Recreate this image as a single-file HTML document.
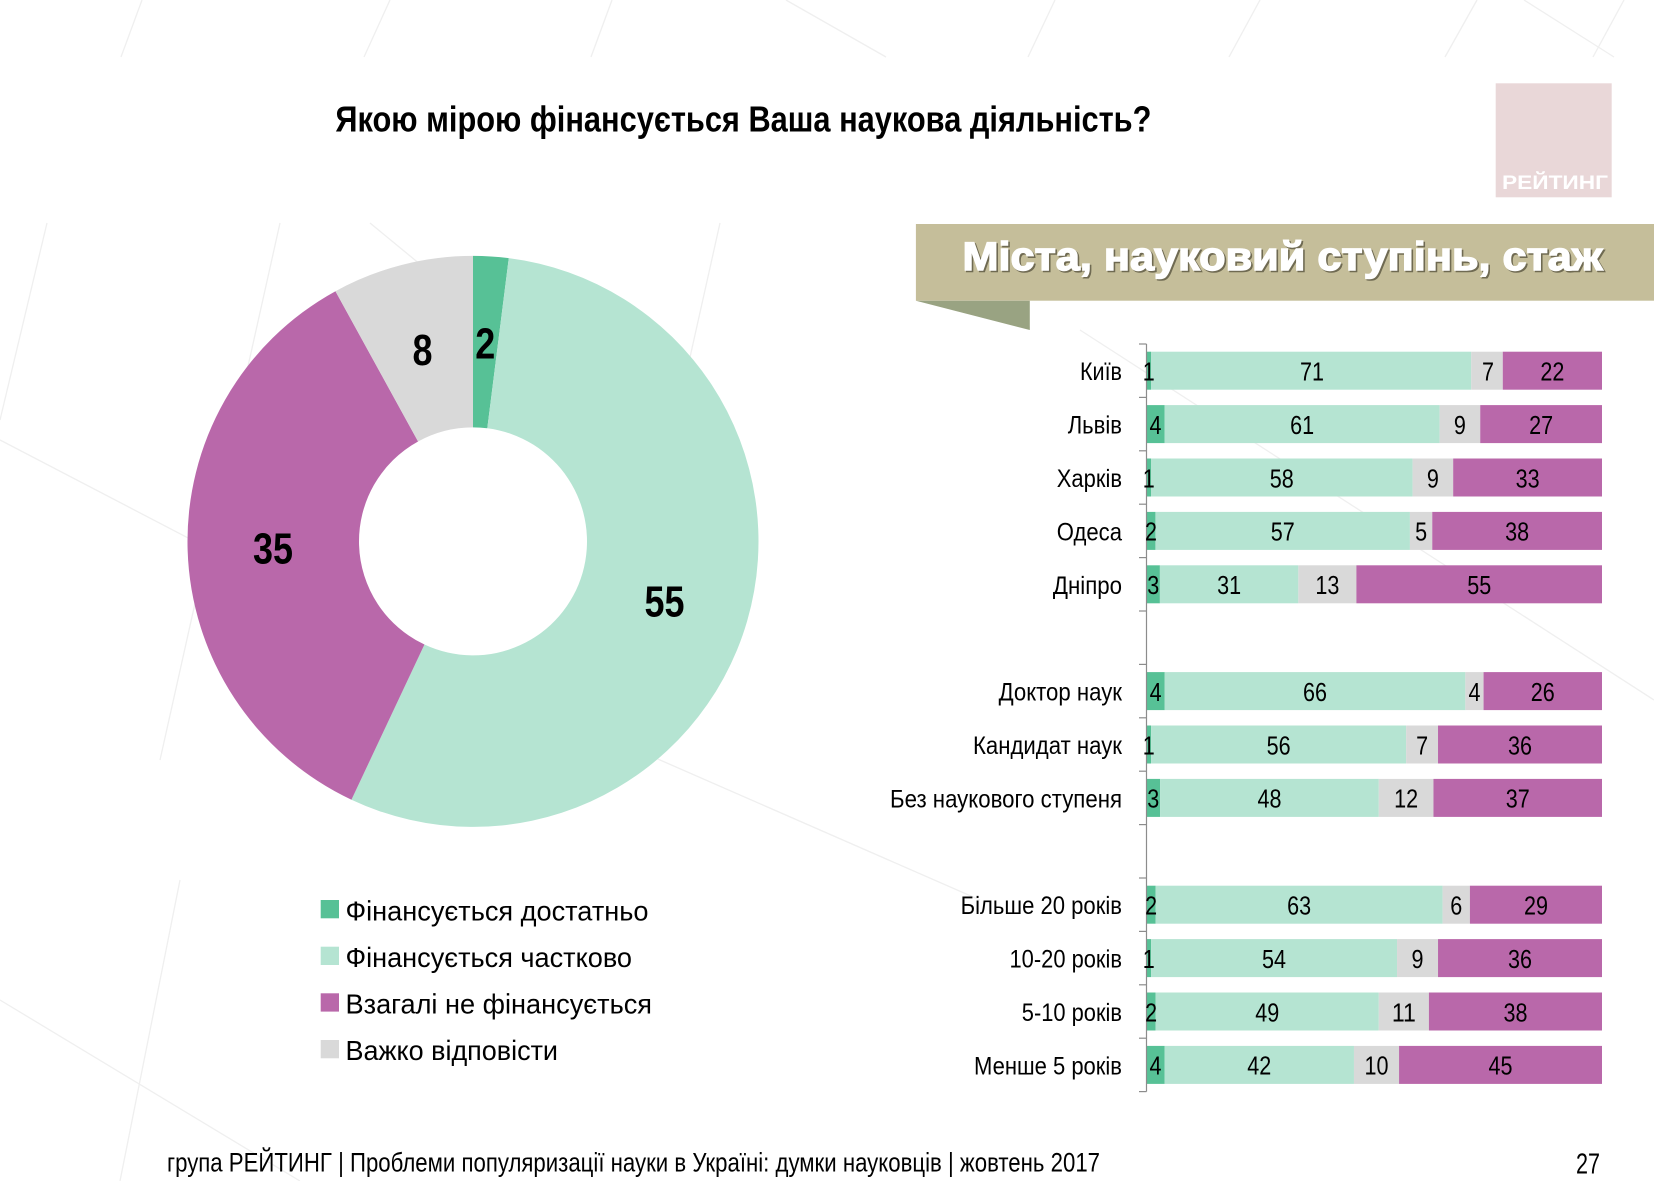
<!DOCTYPE html>
<html>
<head>
<meta charset="utf-8">
<style>
  html,body{margin:0;padding:0;background:#ffffff;}
  svg{display:block;}
  text{font-family:"Liberation Sans Narrow","Liberation Sans","DejaVu Sans",sans-serif;}
  .reg{font-family:"Liberation Sans","DejaVu Sans",sans-serif;}
</style>
</head>
<body>
<svg width="1654" height="1181" viewBox="0 0 1654 1181" xmlns="http://www.w3.org/2000/svg">
  <rect x="0" y="0" width="1654" height="1181" fill="#ffffff"/>

  <!-- faint background lines -->
  <g stroke="#efefef" stroke-width="1.3" fill="none">
    <line x1="142" y1="0" x2="121" y2="57"/>
    <line x1="390" y1="0" x2="364" y2="57"/>
    <line x1="612" y1="0" x2="591" y2="57"/>
    <line x1="786" y1="0" x2="886" y2="57"/>
    <line x1="1055" y1="0" x2="1028" y2="57"/>
    <line x1="1260" y1="0" x2="1229" y2="57"/>
    <line x1="1477" y1="0" x2="1445" y2="57"/>
    <line x1="1524" y1="0" x2="1614" y2="57"/>
    <line x1="1624" y1="0" x2="1593" y2="57"/>
    <line x1="47" y1="223" x2="0" y2="420"/>
    <line x1="280" y1="223" x2="160" y2="760"/>
    <line x1="720" y1="223" x2="600" y2="760"/>
    <line x1="370" y1="223" x2="500" y2="330"/>
    <line x1="0" y1="440" x2="480" y2="690"/>
    <line x1="500" y1="690" x2="980" y2="900"/>
    <line x1="1080" y1="330" x2="1654" y2="700"/>
    <line x1="0" y1="1000" x2="300" y2="1181"/>
    <line x1="180" y1="880" x2="120" y2="1181"/>
  </g>

  <!-- Title -->
  <text x="335.4" y="131.7" font-size="36" font-weight="bold" fill="#000" textLength="816" lengthAdjust="spacingAndGlyphs">Якою мірою фінансується Ваша наукова діяльність?</text>

  <!-- Logo -->
  <rect x="1495.7" y="83.3" width="116" height="114" fill="#e9d7d8"/>
  <text x="1502" y="189" font-size="19" font-weight="bold" fill="#ffffff" textLength="106" lengthAdjust="spacingAndGlyphs">РЕЙТИНГ</text>

  <!-- Banner -->
  <rect x="915.9" y="224" width="738.1" height="76.7" fill="#c5be9a"/>
  <polygon points="915.9,300.7 1029.8,300.7 1029.8,330" fill="#99a382"/>
  <text class="reg" x="964" y="271.5" font-size="39.5" font-weight="bold" fill="#6f6a52" stroke="#6f6a52" stroke-width="1.6" textLength="640" lengthAdjust="spacingAndGlyphs">Міста, науковий ступінь, стаж</text>
  <text class="reg" x="962.5" y="270" font-size="39.5" font-weight="bold" fill="#ffffff" stroke="#ffffff" stroke-width="1.4" textLength="640" lengthAdjust="spacingAndGlyphs">Міста, науковий ступінь, стаж</text>

  <!-- Donut -->
  <g>
    <path d="M473,255.9 A285.5,285.5 0 0 1 508.78,258.15 L487.29,428.30 A114,114 0 0 0 473,427.4 Z" fill="#57c196"/>
    <path d="M508.78,258.15 A285.5,285.5 0 1 1 351.44,799.73 L424.46,644.55 A114,114 0 1 0 487.29,428.30 Z" fill="#b5e4d2"/>
    <path d="M351.44,799.73 A285.5,285.5 0 0 1 335.46,291.21 L418.08,441.50 A114,114 0 0 0 424.46,644.55 Z" fill="#b968aa"/>
    <path d="M335.46,291.21 A285.5,285.5 0 0 1 473,255.9 L473,427.4 A114,114 0 0 0 418.08,441.50 Z" fill="#d9d9d9"/>
  </g>
  <g font-size="44" font-weight="bold" fill="#000" text-anchor="middle">
    <text x="485.3" y="358.3" textLength="20" lengthAdjust="spacingAndGlyphs">2</text>
    <text x="422.5" y="365" textLength="20" lengthAdjust="spacingAndGlyphs">8</text>
    <text x="273" y="563.3" textLength="40" lengthAdjust="spacingAndGlyphs">35</text>
    <text x="664.5" y="616.7" textLength="40" lengthAdjust="spacingAndGlyphs">55</text>
  </g>

  <!-- Legend -->
  <rect x="320.7" y="900" width="18.3" height="18.3" fill="#57c196"/>
  <rect x="320.7" y="946.7" width="18.3" height="18.3" fill="#b5e4d2"/>
  <rect x="320.7" y="993.3" width="18.3" height="18.3" fill="#b968aa"/>
  <rect x="320.7" y="1040" width="18.3" height="18.3" fill="#d9d9d9"/>
  <g class="reg" font-size="28" fill="#000">
    <text class="reg" x="345.5" y="920.5" textLength="303" lengthAdjust="spacingAndGlyphs">Фінансується достатньо</text>
    <text class="reg" x="345.5" y="967" textLength="286.5" lengthAdjust="spacingAndGlyphs">Фінансується частково</text>
    <text class="reg" x="345.5" y="1013.5" textLength="306.5" lengthAdjust="spacingAndGlyphs">Взагалі не фінансується</text>
    <text class="reg" x="345.5" y="1060" textLength="212.5" lengthAdjust="spacingAndGlyphs">Важко відповісти</text>
  </g>

  <!-- Bars -->
  <g>
    <rect x="1146.5" y="351.7" width="4.51" height="38" fill="#57c196"/>
    <rect x="1151.01" y="351.7" width="320.2" height="38" fill="#b5e4d2"/>
    <rect x="1471.21" y="351.7" width="31.57" height="38" fill="#d9d9d9"/>
    <rect x="1502.78" y="351.7" width="99.22" height="38" fill="#b968aa"/>

    <rect x="1146.5" y="405.1" width="18.04" height="38" fill="#57c196"/>
    <rect x="1164.54" y="405.1" width="275.1" height="38" fill="#b5e4d2"/>
    <rect x="1439.64" y="405.1" width="40.59" height="38" fill="#d9d9d9"/>
    <rect x="1480.23" y="405.1" width="121.77" height="38" fill="#b968aa"/>

    <rect x="1146.5" y="458.5" width="4.51" height="38" fill="#57c196"/>
    <rect x="1151.01" y="458.5" width="261.57" height="38" fill="#b5e4d2"/>
    <rect x="1412.58" y="458.5" width="40.59" height="38" fill="#d9d9d9"/>
    <rect x="1453.17" y="458.5" width="148.83" height="38" fill="#b968aa"/>

    <rect x="1146.5" y="511.9" width="8.93" height="38" fill="#57c196"/>
    <rect x="1155.43" y="511.9" width="254.5" height="38" fill="#b5e4d2"/>
    <rect x="1409.93" y="511.9" width="22.33" height="38" fill="#d9d9d9"/>
    <rect x="1432.26" y="511.9" width="169.74" height="38" fill="#b968aa"/>

    <rect x="1146.5" y="565.3" width="13.4" height="38" fill="#57c196"/>
    <rect x="1159.9" y="565.3" width="138.44" height="38" fill="#b5e4d2"/>
    <rect x="1298.34" y="565.3" width="58.05" height="38" fill="#d9d9d9"/>
    <rect x="1356.39" y="565.3" width="245.61" height="38" fill="#b968aa"/>

    <rect x="1146.5" y="672.1" width="18.22" height="38" fill="#57c196"/>
    <rect x="1164.72" y="672.1" width="300.63" height="38" fill="#b5e4d2"/>
    <rect x="1465.35" y="672.1" width="18.22" height="38" fill="#d9d9d9"/>
    <rect x="1483.57" y="672.1" width="118.43" height="38" fill="#b968aa"/>

    <rect x="1146.5" y="725.5" width="4.56" height="38" fill="#57c196"/>
    <rect x="1151.06" y="725.5" width="255.08" height="38" fill="#b5e4d2"/>
    <rect x="1406.14" y="725.5" width="31.88" height="38" fill="#d9d9d9"/>
    <rect x="1438.02" y="725.5" width="163.98" height="38" fill="#b968aa"/>

    <rect x="1146.5" y="778.9" width="13.67" height="38" fill="#57c196"/>
    <rect x="1160.17" y="778.9" width="218.64" height="38" fill="#b5e4d2"/>
    <rect x="1378.81" y="778.9" width="54.66" height="38" fill="#d9d9d9"/>
    <rect x="1433.47" y="778.9" width="168.53" height="38" fill="#b968aa"/>

    <rect x="1146.5" y="885.7" width="9.11" height="38" fill="#57c196"/>
    <rect x="1155.61" y="885.7" width="286.97" height="38" fill="#b5e4d2"/>
    <rect x="1442.58" y="885.7" width="27.33" height="38" fill="#d9d9d9"/>
    <rect x="1469.91" y="885.7" width="132.09" height="38" fill="#b968aa"/>

    <rect x="1146.5" y="939.1" width="4.56" height="38" fill="#57c196"/>
    <rect x="1151.06" y="939.1" width="245.97" height="38" fill="#b5e4d2"/>
    <rect x="1397.03" y="939.1" width="41.0" height="38" fill="#d9d9d9"/>
    <rect x="1438.03" y="939.1" width="163.97" height="38" fill="#b968aa"/>

    <rect x="1146.5" y="992.5" width="9.11" height="38" fill="#57c196"/>
    <rect x="1155.61" y="992.5" width="223.2" height="38" fill="#b5e4d2"/>
    <rect x="1378.81" y="992.5" width="50.1" height="38" fill="#d9d9d9"/>
    <rect x="1428.91" y="992.5" width="173.09" height="38" fill="#b968aa"/>

    <rect x="1146.5" y="1045.9" width="18.04" height="38" fill="#57c196"/>
    <rect x="1164.54" y="1045.9" width="189.42" height="38" fill="#b5e4d2"/>
    <rect x="1353.96" y="1045.9" width="45.1" height="38" fill="#d9d9d9"/>
    <rect x="1399.06" y="1045.9" width="202.94" height="38" fill="#b968aa"/>
  </g>

  <!-- Axis -->
  <g stroke="#8c8c8c" stroke-width="1.2">
    <line x1="1146.5" y1="344" x2="1146.5" y2="1091.6"/>
    <line x1="1139" y1="344" x2="1146.5" y2="344"/>
    <line x1="1139" y1="397.4" x2="1146.5" y2="397.4"/>
    <line x1="1139" y1="450.8" x2="1146.5" y2="450.8"/>
    <line x1="1139" y1="504.2" x2="1146.5" y2="504.2"/>
    <line x1="1139" y1="557.6" x2="1146.5" y2="557.6"/>
    <line x1="1139" y1="611" x2="1146.5" y2="611"/>
    <line x1="1139" y1="664.4" x2="1146.5" y2="664.4"/>
    <line x1="1139" y1="717.8" x2="1146.5" y2="717.8"/>
    <line x1="1139" y1="771.2" x2="1146.5" y2="771.2"/>
    <line x1="1139" y1="824.6" x2="1146.5" y2="824.6"/>
    <line x1="1139" y1="878" x2="1146.5" y2="878"/>
    <line x1="1139" y1="931.4" x2="1146.5" y2="931.4"/>
    <line x1="1139" y1="984.8" x2="1146.5" y2="984.8"/>
    <line x1="1139" y1="1038.2" x2="1146.5" y2="1038.2"/>
    <line x1="1139" y1="1091.6" x2="1146.5" y2="1091.6"/>
  </g>

  <!-- Category labels -->
  <g font-size="25" fill="#000" text-anchor="end">
    <text x="1122" y="380.2" textLength="42" lengthAdjust="spacingAndGlyphs">Київ</text>
    <text x="1122" y="433.6" textLength="54.3" lengthAdjust="spacingAndGlyphs">Львів</text>
    <text x="1122" y="487" textLength="65.2" lengthAdjust="spacingAndGlyphs">Харків</text>
    <text x="1122" y="540.4" textLength="65.2" lengthAdjust="spacingAndGlyphs">Одеса</text>
    <text x="1122" y="593.8" textLength="69.1" lengthAdjust="spacingAndGlyphs">Дніпро</text>
    <text x="1122" y="700.6" textLength="123.4" lengthAdjust="spacingAndGlyphs">Доктор наук</text>
    <text x="1122" y="754" textLength="149" lengthAdjust="spacingAndGlyphs">Кандидат наук</text>
    <text x="1122" y="807.4" textLength="232" lengthAdjust="spacingAndGlyphs">Без наукового ступеня</text>
    <text x="1122" y="914.2" textLength="161.4" lengthAdjust="spacingAndGlyphs">Більше 20 років</text>
    <text x="1122" y="967.6" textLength="112.5" lengthAdjust="spacingAndGlyphs">10-20 років</text>
    <text x="1122" y="1021" textLength="100.2" lengthAdjust="spacingAndGlyphs">5-10 років</text>
    <text x="1122" y="1074.4" textLength="148" lengthAdjust="spacingAndGlyphs">Менше 5 років</text>
  </g>

  <!-- Value labels -->
  <g font-size="26" fill="#000" text-anchor="middle">
    <text x="1148.8" y="380.5" textLength="12" lengthAdjust="spacingAndGlyphs">1</text>
    <text x="1312" y="380.5" textLength="24" lengthAdjust="spacingAndGlyphs">71</text>
    <text x="1488" y="380.5" textLength="12" lengthAdjust="spacingAndGlyphs">7</text>
    <text x="1552.4" y="380.5" textLength="24" lengthAdjust="spacingAndGlyphs">22</text>

    <text x="1155.5" y="433.9" textLength="12" lengthAdjust="spacingAndGlyphs">4</text>
    <text x="1302.1" y="433.9" textLength="24" lengthAdjust="spacingAndGlyphs">61</text>
    <text x="1459.9" y="433.9" textLength="12" lengthAdjust="spacingAndGlyphs">9</text>
    <text x="1541.1" y="433.9" textLength="24" lengthAdjust="spacingAndGlyphs">27</text>

    <text x="1148.8" y="487.3" textLength="12" lengthAdjust="spacingAndGlyphs">1</text>
    <text x="1281.8" y="487.3" textLength="24" lengthAdjust="spacingAndGlyphs">58</text>
    <text x="1432.9" y="487.3" textLength="12" lengthAdjust="spacingAndGlyphs">9</text>
    <text x="1527.6" y="487.3" textLength="24" lengthAdjust="spacingAndGlyphs">33</text>

    <text x="1151" y="540.7" textLength="12" lengthAdjust="spacingAndGlyphs">2</text>
    <text x="1282.7" y="540.7" textLength="24" lengthAdjust="spacingAndGlyphs">57</text>
    <text x="1421.1" y="540.7" textLength="12" lengthAdjust="spacingAndGlyphs">5</text>
    <text x="1517.1" y="540.7" textLength="24" lengthAdjust="spacingAndGlyphs">38</text>

    <text x="1153.2" y="594.1" textLength="12" lengthAdjust="spacingAndGlyphs">3</text>
    <text x="1229.1" y="594.1" textLength="24" lengthAdjust="spacingAndGlyphs">31</text>
    <text x="1327.4" y="594.1" textLength="24" lengthAdjust="spacingAndGlyphs">13</text>
    <text x="1479.2" y="594.1" textLength="24" lengthAdjust="spacingAndGlyphs">55</text>

    <text x="1155.6" y="700.9" textLength="12" lengthAdjust="spacingAndGlyphs">4</text>
    <text x="1315" y="700.9" textLength="24" lengthAdjust="spacingAndGlyphs">66</text>
    <text x="1474.5" y="700.9" textLength="12" lengthAdjust="spacingAndGlyphs">4</text>
    <text x="1542.8" y="700.9" textLength="24" lengthAdjust="spacingAndGlyphs">26</text>

    <text x="1148.8" y="754.3" textLength="12" lengthAdjust="spacingAndGlyphs">1</text>
    <text x="1278.6" y="754.3" textLength="24" lengthAdjust="spacingAndGlyphs">56</text>
    <text x="1422.1" y="754.3" textLength="12" lengthAdjust="spacingAndGlyphs">7</text>
    <text x="1520" y="754.3" textLength="24" lengthAdjust="spacingAndGlyphs">36</text>

    <text x="1153.3" y="807.7" textLength="12" lengthAdjust="spacingAndGlyphs">3</text>
    <text x="1269.5" y="807.7" textLength="24" lengthAdjust="spacingAndGlyphs">48</text>
    <text x="1406.1" y="807.7" textLength="24" lengthAdjust="spacingAndGlyphs">12</text>
    <text x="1517.7" y="807.7" textLength="24" lengthAdjust="spacingAndGlyphs">37</text>

    <text x="1151.1" y="914.5" textLength="12" lengthAdjust="spacingAndGlyphs">2</text>
    <text x="1299.1" y="914.5" textLength="24" lengthAdjust="spacingAndGlyphs">63</text>
    <text x="1456.2" y="914.5" textLength="12" lengthAdjust="spacingAndGlyphs">6</text>
    <text x="1536" y="914.5" textLength="24" lengthAdjust="spacingAndGlyphs">29</text>

    <text x="1148.8" y="967.9" textLength="12" lengthAdjust="spacingAndGlyphs">1</text>
    <text x="1274" y="967.9" textLength="24" lengthAdjust="spacingAndGlyphs">54</text>
    <text x="1417.5" y="967.9" textLength="12" lengthAdjust="spacingAndGlyphs">9</text>
    <text x="1520" y="967.9" textLength="24" lengthAdjust="spacingAndGlyphs">36</text>

    <text x="1151.1" y="1021.3" textLength="12" lengthAdjust="spacingAndGlyphs">2</text>
    <text x="1267.2" y="1021.3" textLength="24" lengthAdjust="spacingAndGlyphs">49</text>
    <text x="1403.9" y="1021.3" textLength="24" lengthAdjust="spacingAndGlyphs">11</text>
    <text x="1515.5" y="1021.3" textLength="24" lengthAdjust="spacingAndGlyphs">38</text>

    <text x="1155.5" y="1074.7" textLength="12" lengthAdjust="spacingAndGlyphs">4</text>
    <text x="1259.3" y="1074.7" textLength="24" lengthAdjust="spacingAndGlyphs">42</text>
    <text x="1376.5" y="1074.7" textLength="24" lengthAdjust="spacingAndGlyphs">10</text>
    <text x="1500.5" y="1074.7" textLength="24" lengthAdjust="spacingAndGlyphs">45</text>
  </g>

  <!-- Footer -->
  <text x="167" y="1171.5" font-size="27" fill="#000" textLength="933" lengthAdjust="spacingAndGlyphs">група РЕЙТИНГ | Проблеми популяризації науки в Україні: думки науковців | жовтень 2017</text>
  <text x="1576" y="1173.5" font-size="29" fill="#000" textLength="24" lengthAdjust="spacingAndGlyphs">27</text>
</svg>
</body>
</html>
